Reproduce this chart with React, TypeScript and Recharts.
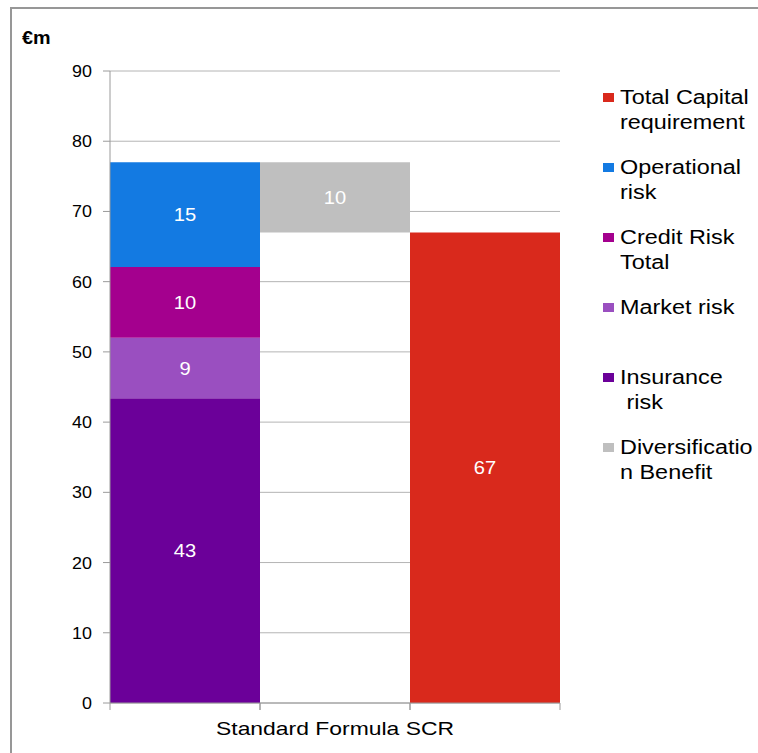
import React from "react";
import { BarChart, Bar, XAxis, YAxis, CartesianGrid, Legend, LabelList } from "recharts";

// values in €m
const categories = ["", "Standard Formula SCR", ""];
const insuranceRisk = [43.4, 0, 0];
const marketRisk = [8.6, 0, 0];
const creditRisk = [10.1, 0, 0];
const operationalRisk = [14.9, 0, 0];
const diversificationBase = [0, 67, 0];
const diversificationBenefit = [0, 10, 0];
const totalCapital = [0, 0, 67];
const yTicks = [0, 10, 20, 30, 40, 50, 60, 70, 80, 90];

const legendOrder = ["total", "operational", "credit", "market", "insurance", "diversification"];
const legendLabels = [
  ["Total Capital", "requirement"],
  ["Operational", "risk"],
  ["Credit Risk", "Total"],
  ["Market risk"],
  ["Insurance", " risk"],
  ["Diversificatio", "n Benefit"],
];

const colors: Record<string, string> = {
  insurance: "#6b0099",
  market: "#9a4fc0",
  credit: "#a4008e",
  operational: "#137ae2",
  diversification: "#bfbfbf",
  total: "#d9291c",
};

const FONT = "'Liberation Sans', Arial, sans-serif";
const W = 758;
const H = 753;
const PLOT_BOTTOM = 703;
const HALF_BAND = 75;

const data = categories.map((name, i) => ({
  name,
  insurance: insuranceRisk[i],
  market: marketRisk[i],
  credit: creditRisk[i],
  operational: operationalRisk[i],
  base: diversificationBase[i],
  diversification: diversificationBenefit[i],
  total: totalCapital[i],
}));

function ValueLabel(props: any) {
  const { x, y, width, height, value } = props;
  if (!value) return null;
  const cx = Number(x) + Number(width) / 2;
  const cy = Number(y) + Number(height) / 2;
  return (
    <text
      transform={`translate(${cx},${cy + 6.5}) scale(1.12,1)`}
      textAnchor="middle"
      fill="#ffffff"
      fontSize={18}
      fontFamily={FONT}
    >
      {Math.round(value)}
    </text>
  );
}

function ValueTick(props: any) {
  const { x, y, payload } = props;
  return (
    <text
      transform={`translate(${x},${y + 6}) scale(1.12,1)`}
      textAnchor="end"
      fill="#000"
      fontSize={16}
      fontFamily={FONT}
    >
      {payload.value}
    </text>
  );
}

function CategoryTick(props: any) {
  const { x, payload } = props;
  return (
    <g>
      <line x1={x - HALF_BAND} x2={x - HALF_BAND} y1={PLOT_BOTTOM} y2={PLOT_BOTTOM + 7} stroke="#9a9a9a" />
      <line x1={x + HALF_BAND} x2={x + HALF_BAND} y1={PLOT_BOTTOM} y2={PLOT_BOTTOM + 7} stroke="#9a9a9a" />
      {payload.value ? (
        <text
          x={x}
          y={735}
          textAnchor="middle"
          fill="#000"
          fontSize={19}
          fontFamily={FONT}
          textLength={238}
          lengthAdjust="spacingAndGlyphs"
        >
          {payload.value}
        </text>
      ) : null}
    </g>
  );
}

function renderLegend(props: any) {
  const payload: any[] = props.payload || [];
  return (
    <div style={{ fontFamily: FONT }}>
      {legendOrder.map((key, i) => {
        const entry = payload.find((p) => p.dataKey === key);
        const color = entry ? entry.color : colors[key];
        return (
          <div key={key} style={{ position: "relative", height: 70 }}>
            <div
              style={{
                position: "absolute",
                left: 3,
                top: 8,
                width: 11,
                height: 9,
                background: color,
              }}
            />
            <div
              style={{
                position: "absolute",
                left: 20,
                top: 0,
                fontSize: 20,
                lineHeight: "25px",
                color: "#000",
                whiteSpace: "pre",
                transform: "scaleX(1.17)",
                transformOrigin: "left top",
              }}
            >
              {legendLabels[i].map((line) => (
                <div key={line}>{line}</div>
              ))}
            </div>
          </div>
        );
      })}
    </div>
  );
}

export default function App() {
  return (
    <div
      style={{
        position: "fixed",
        left: 0,
        top: 0,
        width: W,
        height: H,
        overflow: "hidden",
        background: "#fff",
      }}
    >
      <div
        style={{
          position: "absolute",
          left: 10,
          top: 7,
          width: 900,
          height: 900,
          borderTop: "2px solid #979797",
          borderLeft: "2px solid #979797",
        }}
      />
      <div style={{ position: "absolute", left: 0, top: 0 }}>
        <BarChart
          width={W}
          height={H}
          data={data}
          margin={{ top: 71, right: 198, bottom: 0, left: 0 }}
          barCategoryGap={0}
          barGap={0}
        >
          <CartesianGrid vertical={false} stroke="#b4b4b4" />
          <XAxis
            dataKey="name"
            height={50}
            interval={0}
            tickLine={false}
            axisLine={{ stroke: "#9a9a9a" }}
            tick={<CategoryTick />}
          />
          <YAxis
            width={110}
            domain={[0, 90]}
            ticks={yTicks}
            interval={0}
            tickSize={7}
            tickMargin={11}
            axisLine={{ stroke: "#9a9a9a" }}
            tickLine={{ stroke: "#9a9a9a" }}
            tick={<ValueTick />}
            label={{
              content: () => (
                <text
                  transform="translate(22,44) scale(1.1,1)"
                  fontSize={18}
                  fontWeight="bold"
                  fontFamily={FONT}
                  fill="#000"
                >
                  €m
                </text>
              ),
            }}
          />
          <Legend
            layout="vertical"
            align="center"
            verticalAlign="middle"
            wrapperStyle={{ left: 600, top: 84.5, width: 158 }}
            content={renderLegend}
          />
          <Bar dataKey="insurance" stackId="a" fill={colors.insurance} isAnimationActive={false}>
            <LabelList dataKey="insurance" content={<ValueLabel />} />
          </Bar>
          <Bar dataKey="market" stackId="a" fill={colors.market} isAnimationActive={false}>
            <LabelList dataKey="market" content={<ValueLabel />} />
          </Bar>
          <Bar dataKey="credit" stackId="a" fill={colors.credit} isAnimationActive={false}>
            <LabelList dataKey="credit" content={<ValueLabel />} />
          </Bar>
          <Bar dataKey="operational" stackId="a" fill={colors.operational} isAnimationActive={false}>
            <LabelList dataKey="operational" content={<ValueLabel />} />
          </Bar>
          <Bar dataKey="base" stackId="a" fill="transparent" legendType="none" isAnimationActive={false} />
          <Bar dataKey="diversification" stackId="a" fill={colors.diversification} isAnimationActive={false}>
            <LabelList dataKey="diversification" content={<ValueLabel />} />
          </Bar>
          <Bar dataKey="total" stackId="a" fill={colors.total} isAnimationActive={false}>
            <LabelList dataKey="total" content={<ValueLabel />} />
          </Bar>
        </BarChart>
      </div>
    </div>
  );
}
